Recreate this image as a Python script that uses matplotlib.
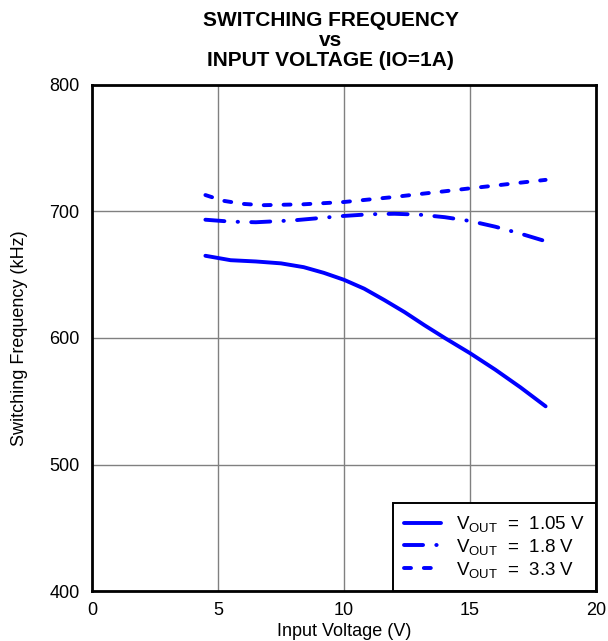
import matplotlib
matplotlib.use('Agg')
import matplotlib.pyplot as plt

plt.rcParams['font.family'] = ['Liberation Sans', 'DejaVu Sans']
plt.rcParams['mathtext.fontset'] = 'custom'
plt.rcParams['mathtext.rm'] = 'Liberation Sans'

# data
vin_105 = [4.5, 5.5, 6.5, 7.5, 8.4, 9.2, 10.0, 10.8, 11.6, 12.4, 13.2, 14.0, 15.0, 16.0, 17.0, 18.0]
f_105 = [665, 661.5, 660.5, 659, 656, 651.5, 646, 639, 630, 620.5, 610, 600, 588, 575, 561, 546]

vin_18 = [4.5, 5.5, 6.5, 8.0, 10.0, 11.0, 12.0, 13.0, 14.0, 15.0, 16.0, 17.0, 18.0]
f_18 = [693.5, 692, 691.5, 693, 696.5, 697.8, 698.2, 697.5, 695.5, 692.5, 688, 682.5, 676.5]

vin_33 = [4.5, 5.2, 6.0, 6.8, 8.4, 10.0, 11.0, 12.0, 13.0, 14.0, 15.0, 16.0, 17.0, 18.0]
f_33 = [713, 708.5, 706, 705, 705.7, 707.5, 709.5, 711.5, 713.8, 716, 718.3, 720.5, 722.8, 725]

legend_labels = [r'$\mathrm{V_{OUT}}$  =  1.05 V',
                 r'$\mathrm{V_{OUT}}$  =  1.8 V',
                 r'$\mathrm{V_{OUT}}$  =  3.3 V']

fig = plt.figure(figsize=(6.08, 6.41), dpi=100)
ax = fig.add_axes([0.1513, 0.078, 0.829, 0.7894])

ax.grid(True, color='gray', lw=1)
ax.set_axisbelow(True)

ax.plot(vin_105, f_105, color='blue', lw=2.8, solid_capstyle='round', label=legend_labels[0])
ax.plot(vin_18, f_18, color='blue', lw=2.8, dashes=(4.9, 3.4, 0.1, 3.4), dash_capstyle='round', label=legend_labels[1])
ax.plot(vin_33, f_33, color='blue', lw=2.8, dashes=(1.8, 3.3), dash_capstyle='round', label=legend_labels[2])

ax.set_xlim(0, 20)
ax.set_ylim(400, 800)
ax.set_xticks([0, 5, 10, 15, 20])
ax.set_yticks([400, 500, 600, 700, 800])
ax.tick_params(length=0, labelsize=13)
ax.tick_params(axis='y', pad=9)
ax.tick_params(axis='x', pad=8)
for s in ax.spines.values():
    s.set_linewidth(2)

ax.set_xlabel('Input Voltage (V)', fontsize=13, labelpad=3)
ax.set_ylabel('Switching Frequency (kHz)', fontsize=13, labelpad=15)
ax.set_title('SWITCHING FREQUENCY\nvs\nINPUT VOLTAGE (IO=1A)', fontsize=15, fontweight='bold',
             linespacing=1.06, pad=14, x=0.474)

leg = ax.legend(loc='lower right', fontsize=13.5, fancybox=False, framealpha=1,
                edgecolor='black', borderaxespad=0, handlelength=1.95,
                labelspacing=0.15, borderpad=0.6, handletextpad=0.8)
leg.get_frame().set_linewidth(1.4)

fig.savefig('out.png', dpi=100)
